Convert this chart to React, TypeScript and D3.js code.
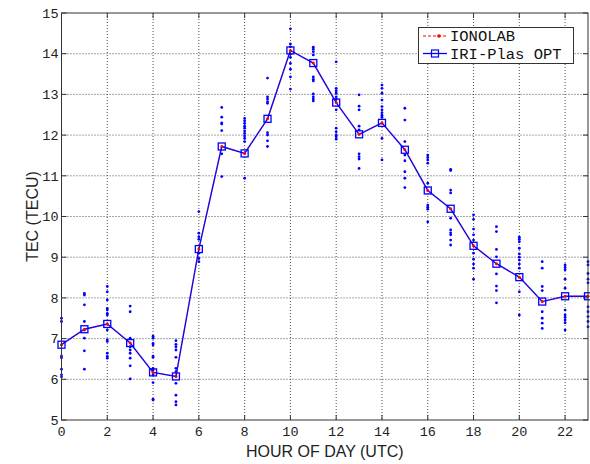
import React from "react";
import * as d3 from "d3";

const hours = [0, 1, 2, 3, 4, 5, 6, 7, 8, 9, 10, 11, 12, 13, 14, 15, 16, 17, 18, 19, 20, 21, 22, 23];
const ionolab = [6.85, 7.23, 7.36, 6.89, 6.17, 6.07, 9.2, 11.72, 11.55, 12.4, 14.08, 13.77, 12.8, 12.02, 12.3, 11.64, 10.64, 10.19, 9.28, 8.84, 8.51, 7.91, 8.04, 8.04];
const iriPlasOpt = [6.85, 7.23, 7.36, 6.89, 6.17, 6.07, 9.2, 11.72, 11.55, 12.4, 14.08, 13.77, 12.8, 12.02, 12.3, 11.64, 10.64, 10.19, 9.28, 8.84, 8.51, 7.91, 8.04, 8.04];
const dailyTec = [
  [7.5, 7.42, 6.57, 6.53, 6.25, 6.11, 6.06],
  [8.11, 8.07, 7.83, 7.42, 7.21, 7.01, 6.7, 6.25],
  [8.28, 8.15, 7.95, 7.74, 7.7, 7.62, 7.58, 7.21, 6.97, 6.93, 6.64, 6.56, 6.52],
  [7.8, 7.66, 7.01, 6.8, 6.72, 6.64, 6.52, 6.33, 6.01],
  [7.06, 7.01, 6.88, 6.84, 6.57, 6.54, 6.27, 6.23, 6.11, 5.92, 5.51, 5.49],
  [6.95, 6.86, 6.8, 6.72, 6.54, 6.27, 6.19, 6.08, 5.9, 5.61, 5.45, 5.37],
  [10.12, 9.59, 9.5, 9.44, 9.1, 8.97, 8.89],
  [12.68, 12.44, 12.3, 12.27, 12.11, 11.54, 10.98],
  [12.41, 12.35, 12.29, 12.22, 12.17, 12.1, 12.04, 11.98, 11.92, 11.84, 10.94],
  [13.4, 12.94, 12.89, 12.82, 12.78, 12.06, 12.0, 11.86, 11.72],
  [14.61, 14.24, 14.17, 13.99, 13.91, 13.76, 13.62, 13.43, 13.13],
  [14.16, 14.11, 14.05, 13.97, 13.43, 13.37, 13.33, 13.01, 12.94, 12.89, 12.84],
  [13.8, 13.15, 13.09, 13.03, 12.94, 12.88, 12.62, 12.17, 12.08, 12.0, 11.96, 11.9],
  [12.99, 12.71, 12.62, 12.22, 12.13, 11.54, 11.47, 11.41, 11.18],
  [13.23, 13.15, 13.03, 12.86, 12.7, 12.62, 12.55, 12.49, 12.44, 11.92, 11.39],
  [12.66, 12.37, 11.84, 11.51, 11.37, 11.1, 10.94, 10.71],
  [11.51, 11.45, 11.39, 11.31, 10.82, 10.28, 10.23, 10.18, 9.87],
  [11.16, 11.13, 10.65, 10.58, 9.96, 9.67, 9.6, 9.55, 9.42, 9.3],
  [10.04, 9.93, 9.69, 9.55, 9.42, 9.1, 8.95, 8.83, 8.73, 8.46],
  [9.75, 9.63, 9.19, 9.01, 8.59, 8.29, 8.18, 7.88],
  [9.49, 9.44, 9.38, 9.22, 9.08, 9.0, 8.93, 8.83, 8.73, 8.15, 7.58],
  [8.89, 8.73, 8.28, 8.18, 7.66, 7.5, 7.38, 7.25],
  [8.81, 8.75, 8.69, 8.46, 8.24, 7.7, 7.58, 7.52, 7.46, 7.39, 7.21],
  [8.89, 8.81, 8.6, 8.46, 8.37, 7.78, 7.66, 7.54, 7.42, 7.29],
];
const xTicks = [0, 2, 4, 6, 8, 10, 12, 14, 16, 18, 20, 22];
const yTicks = [5, 6, 7, 8, 9, 10, 11, 12, 13, 14, 15];
const legendLabels = ["IONOLAB", "IRI-Plas OPT"];

const W = 590;
const H = 464;
const L = 61.5, R = 588, T = 13, B = 420;

export default function App() {
  const x = d3.scaleLinear().domain([0, 23]).range([L, R]);
  const y = d3.scaleLinear().domain([5, 15]).range([B, T]);
  const line = d3.line<number>().x((_, i) => x(hours[i])).y((d) => y(d));
  const mono = "'Liberation Mono', 'DejaVu Sans Mono', monospace";
  const sans = "'Liberation Sans', Arial, sans-serif";
  const gridColor = "#222";
  const tick = 5;

  return (
    <svg width={W} height={H} style={{ position: "absolute", left: 0, top: 0, background: "#fff" }}>
      <rect x={0} y={0} width={W} height={H} fill="#fff" />
      {/* grid */}
      {xTicks.filter((t) => t > 0).map((t) => (
        <line key={"gx" + t} x1={x(t)} x2={x(t)} y1={T} y2={B} stroke={gridColor} strokeWidth={0.8} strokeDasharray="1,2" />
      ))}
      {yTicks.filter((t) => t > 5 && t < 15).map((t) => (
        <line key={"gy" + t} x1={L} x2={R} y1={y(t)} y2={y(t)} stroke={gridColor} strokeWidth={0.8} strokeDasharray="1,2" />
      ))}
      {/* ticks */}
      {xTicks.map((t) => (
        <g key={"tx" + t}>
          <line x1={x(t)} x2={x(t)} y1={B} y2={B - tick} stroke="#333" />
          <line x1={x(t)} x2={x(t)} y1={T} y2={T + tick} stroke="#333" />
          <text x={x(t)} y={B + 16} textAnchor="middle" fontFamily={mono} fontSize={13.5} fill="#222">{t}</text>
        </g>
      ))}
      {yTicks.map((t) => (
        <g key={"ty" + t}>
          <line x1={L} x2={L + tick} y1={y(t)} y2={y(t)} stroke="#333" />
          <line x1={R} x2={R - tick} y1={y(t)} y2={y(t)} stroke="#333" />
          <text x={L - 3} y={y(t)} dy="0.35em" textAnchor="end" fontFamily={mono} fontSize={13.5} fill="#222">{t}</text>
        </g>
      ))}
      {/* scatter */}
      {dailyTec.map((vals, i) =>
        vals.map((v, j) => <circle key={`d${i}-${j}`} cx={x(hours[i])} cy={y(v)} r={1.4} fill="#0000ff" />)
      )}
      {/* IRI-Plas OPT line */}
      <path d={line(iriPlasOpt) || ""} fill="none" stroke="#0000ff" strokeWidth={1.4} />
      {/* IONOLAB line */}
      <path d={line(ionolab) || ""} fill="none" stroke="#ff0000" strokeWidth={0.6} strokeDasharray="3,2" strokeOpacity={0.6} />
      {iriPlasOpt.map((v, i) => (
        <rect key={"sq" + i} x={x(hours[i]) - 3.5} y={y(v) - 3.5} width={7} height={7} fill="none" stroke="#0000ff" strokeWidth={1.3} />
      ))}
      {ionolab.map((v, i) => (
        <circle key={"io" + i} cx={x(hours[i])} cy={y(v)} r={1.5} fill="#ff0000" />
      ))}
      {/* frame */}
      <rect x={L} y={T} width={R - L} height={B - T} fill="none" stroke="#333" strokeWidth={1} />
      {/* legend */}
      <g>
        <rect x={418.5} y={27.5} width={155} height={36} fill="#fff" stroke="#333" strokeWidth={1} />
        <line x1={423} x2={447} y1={36} y2={36} stroke="#ff0000" strokeWidth={1} strokeDasharray="3,2" />
        <circle cx={439} cy={36} r={1.8} fill="#ff0000" />
        <line x1={423} x2={447} y1={53.5} y2={53.5} stroke="#0000ff" strokeWidth={1.3} />
        <rect x={431.5} y={50} width={7} height={7} fill="none" stroke="#0000ff" strokeWidth={1.2} />
        <text x={450} y={36} dy="0.35em" fontFamily={mono} fontSize={15.5} fill="#111">{legendLabels[0]}</text>
        <text x={450} y={53.5} dy="0.35em" fontFamily={mono} fontSize={15.5} fill="#111">{legendLabels[1]}</text>
      </g>
      {/* axis titles */}
      <text x={(L + R) / 2} y={457} textAnchor="middle" fontFamily={sans} fontSize={16} fill="#222">HOUR OF DAY (UTC)</text>
      <text transform={`translate(38,${(T + B) / 2}) rotate(-90)`} textAnchor="middle" fontFamily={sans} fontSize={16} fill="#222">TEC (TECU)</text>
    </svg>
  );
}
